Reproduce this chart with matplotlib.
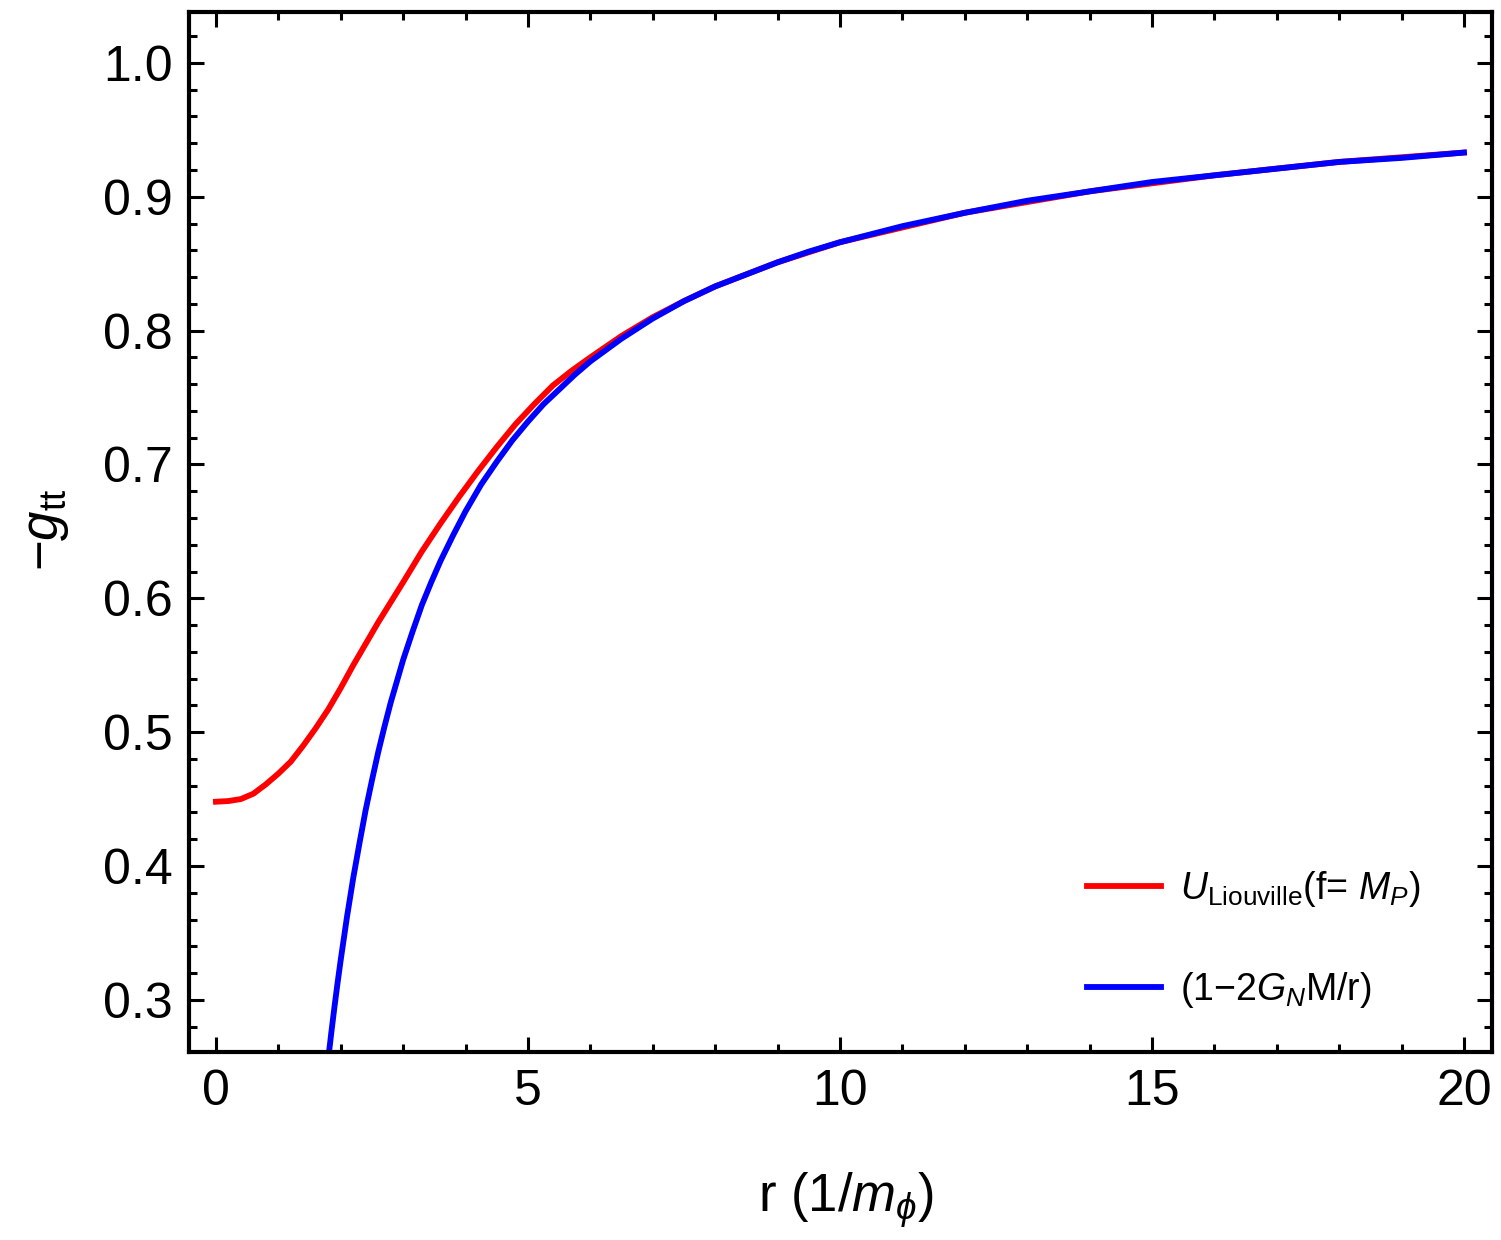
import matplotlib
matplotlib.use('Agg')
import matplotlib.pyplot as plt
from matplotlib.ticker import MultipleLocator, FormatStrFormatter

plt.rcParams['font.family'] = ['Liberation Sans', 'DejaVu Sans']
plt.rcParams['mathtext.fontset'] = 'custom'
plt.rcParams['mathtext.rm'] = 'Liberation Sans'
plt.rcParams['mathtext.it'] = 'Liberation Sans:italic'
plt.rcParams['mathtext.bf'] = 'Liberation Sans:bold'

# values
red_r = [0, 0.2, 0.4, 0.6, 0.8, 1.0, 1.2, 1.4, 1.6, 1.8, 2.0, 2.2, 2.4, 2.6, 2.8,
         3.0, 3.3, 3.6, 3.9, 4.2, 4.5, 4.8, 5.1, 5.4, 5.7, 6.0, 6.5, 7.0, 7.5, 8,
         9, 10, 12, 14, 16, 18, 20]
red_y = [0.448, 0.4485, 0.450, 0.454, 0.461, 0.469, 0.478, 0.490, 0.503, 0.517,
         0.533, 0.550, 0.566, 0.582, 0.597, 0.612, 0.635, 0.656, 0.676, 0.695,
         0.713, 0.730, 0.745, 0.759, 0.770, 0.780, 0.796, 0.810, 0.822, 0.833,
         0.851, 0.866, 0.888, 0.904, 0.916, 0.926, 0.933]

blue_r = [1.8, 1.85, 1.9, 1.95, 2.0, 2.1, 2.2, 2.3, 2.4, 2.5, 2.6, 2.7, 2.8, 2.9,
          3.0, 3.15, 3.3, 3.45, 3.6, 3.8, 4.0, 4.25, 4.5, 4.75, 5.0, 5.25, 5.5,
          5.75, 6.0, 6.5, 7, 7.5, 8, 8.5, 9, 9.5, 10, 11, 12, 13, 14, 15, 16, 17,
          18, 19, 20]
blue_y = [0.256, 0.276, 0.295, 0.313, 0.330, 0.362, 0.391, 0.417, 0.442, 0.464,
          0.485, 0.504, 0.522, 0.538, 0.554, 0.575, 0.595, 0.612, 0.628, 0.647,
          0.665, 0.685, 0.702, 0.718, 0.732, 0.745, 0.756, 0.767, 0.777, 0.794,
          0.809, 0.822, 0.833, 0.842, 0.851, 0.859, 0.866, 0.878, 0.888, 0.897,
          0.904, 0.911, 0.916, 0.921, 0.926, 0.929, 0.933]

red_label = r'$U_{\mathrm{Liouville}}$(f= $M_P$)'
blue_label = r'(1$-$2$G_N$M/r)'

fig = plt.figure(figsize=(15.01, 12.40), dpi=100)
ax = fig.add_axes([0.126, 0.1516, 0.868, 0.8387])

ax.plot(red_r, red_y, color='#ff0000', lw=4.2, label=red_label, solid_joinstyle='round')
ax.plot(blue_r, blue_y, color='#0000ff', lw=4.2, label=blue_label, solid_joinstyle='round')

ax.set_xlim(-0.43, 20.45)
ax.set_ylim(0.261, 1.038)

ax.xaxis.set_major_locator(MultipleLocator(5))
ax.xaxis.set_minor_locator(MultipleLocator(1))
ax.yaxis.set_major_locator(MultipleLocator(0.1))
ax.yaxis.set_minor_locator(MultipleLocator(0.02))
ax.yaxis.set_major_formatter(FormatStrFormatter('%.1f'))

ax.tick_params(which='both', direction='in', top=True, right=True, width=2.2)
ax.tick_params(which='major', length=11, labelsize=36, pad=12)
ax.tick_params(which='minor', length=6)
for s in ax.spines.values():
    s.set_linewidth(3)

ax.set_xlabel(r'r (1/$m_\phi$)', fontsize=38)
ax.set_ylabel(r'$-g_{\mathrm{tt}}$', fontsize=38)
ax.xaxis.set_label_coords(0.504, -0.142)
ax.yaxis.set_label_coords(-0.11, 0.502)
ax.xaxis.label.set_va('center')
ax.yaxis.label.set_va('center')

ax.legend(loc='lower left', bbox_to_anchor=(0.663, 0.008), frameon=False, fontsize=27,
          handlelength=1.97, handletextpad=0.53, labelspacing=1.63)

fig.savefig('out.png', dpi=100)
